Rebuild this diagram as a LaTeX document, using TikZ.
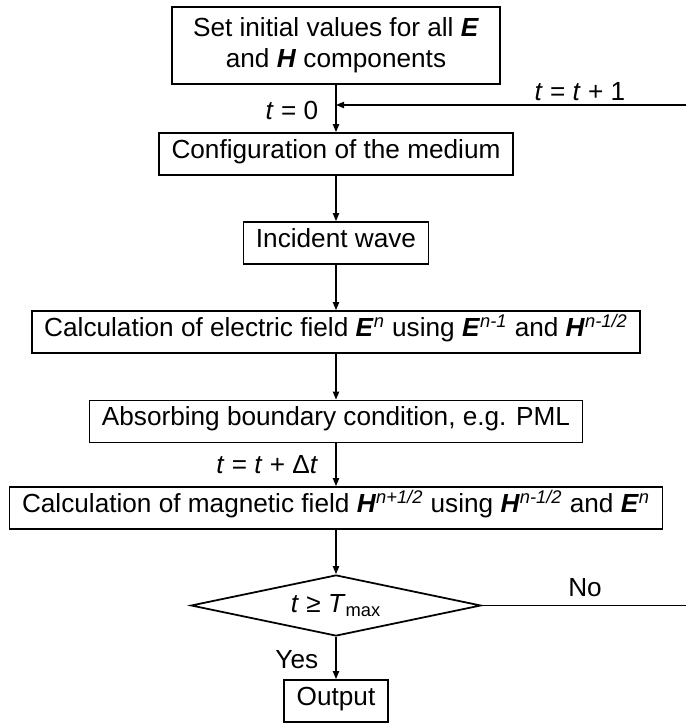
\documentclass[tikz,border=0pt]{standalone}
\usepackage{fontspec}
\setmainfont{Liberation Sans}
\usetikzlibrary{arrows.meta,shapes.geometric}

\begin{document}
\begin{tikzpicture}[
  font=\fontsize{14.9}{17.9}\selectfont,
  box/.style={draw,line width=1pt,inner xsep=0.25cm,inner ysep=0pt,minimum height=0.84cm},
  onebox/.style={box,text height=0.75em,text depth=0.25em},
  flow/.style={-{Triangle[length=4.6pt,width=3.6pt]},line width=0.8pt},
  lbl/.style={inner sep=2pt}
  ]
  \useasboundingbox (0,0) rectangle (13.72,14.46);
  %steps
  \node[box,align=center,minimum width=6.56cm,minimum height=1.54cm] (init) at (6.72,13.55)
    {Set initial values for all \textbf{\textit{E}}\\and \textbf{\textit{H}} components};
  \node[onebox] (medium) at (6.72,11.38) {Configuration of the medium};
  \node[onebox] (wave) at (6.72,9.60) {Incident wave};
  \node[onebox] (efield) at (6.72,7.82) {Calculation of electric field \textbf{\textit{E}}\textsuperscript{\itshape n} using \textbf{\textit{E}}\textsuperscript{\itshape n-1} and \textbf{\textit{H}}\textsuperscript{\itshape n-1/2}};
  \node[onebox] (pml) at (6.72,6.03) {Absorbing boundary condition, e.g. PML};
  \node[onebox] (hfield) at (6.72,4.30) {Calculation of magnetic field \textbf{\textit{H}}\textsuperscript{\itshape n+1/2} using \textbf{\textit{H}}\textsuperscript{\itshape n-1/2} and \textbf{\textit{E}}\textsuperscript{\itshape n}};
  \node[draw,diamond,line width=1pt,aspect=4.75,inner sep=0pt,minimum width=5.8cm,minimum height=1.22cm] (test) at (6.72,2.35)
    {\textit{t} ≥ \textit{T}\textsubscript{max}};
  \node[onebox] (out) at (6.72,0.44) {Output};
  %loop ends
  \coordinate (join) at (6.72,12.36);
  \coordinate (back) at (13.72,12.36);
  \coordinate (noend) at (13.72,2.35);
  %labels
  \node[lbl,anchor=east] (tzero) at (6.44,12.26) {\textit{t} = 0};
  \node[lbl] (tinc) at (11.6,12.62) {\textit{t} = \textit{t} + 1};
  \node[lbl,anchor=east] (tstep) at (6.44,5.16) {\textit{t} = \textit{t} + Δ\textit{t}};
  \node[lbl] (no) at (11.7,2.7) {No};
  \node[lbl,anchor=east] (yes) at (6.44,1.26) {Yes};
  %arrows
  \draw[flow] (init) -- (medium);
  \draw[flow] (back) -- (join);
  \draw[flow] (medium) -- (wave);
  \draw[flow] (wave) -- (efield);
  \draw[flow] (efield) -- (pml);
  \draw[flow] (pml) -- (hfield);
  \draw[flow] (hfield) -- (test);
  \draw[line width=0.8pt] (test.east) -- (noend);
  \draw[flow] (test) -- (out);
\end{tikzpicture}
\end{document}
